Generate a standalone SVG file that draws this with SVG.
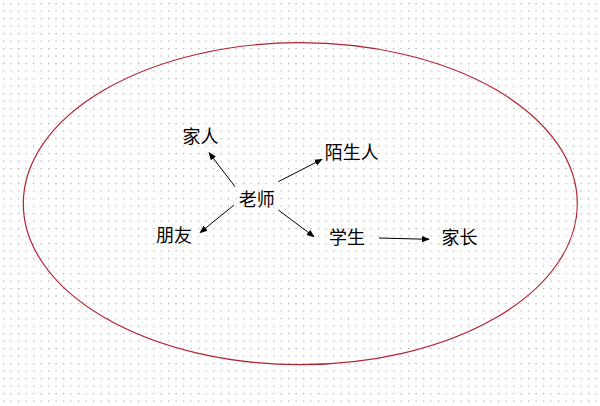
<svg xmlns="http://www.w3.org/2000/svg" width="600" height="406" viewBox="0 0 600 406">
<defs>
<pattern id="dots" x="3" y="3" width="7.5" height="7.5" patternUnits="userSpaceOnUse">
<rect x="0" y="0" width="1.2" height="1.2" fill="#a8a8a8"/>
</pattern>
<marker id="arr" viewBox="0 0 10 10" refX="9" refY="5" markerWidth="8" markerHeight="8" markerUnits="userSpaceOnUse" orient="auto">
<path d="M0,1 L10,5 L0,9 Z" fill="#000"/>
</marker>
<style>
.lbl{font-family:"Noto Sans CJK SC","Noto Sans",sans-serif;font-size:18px;fill:#000;text-anchor:middle}
.edge{stroke:#000;stroke-width:1;fill:none;marker-end:url(#arr)}
</style>
</defs>
<rect width="600" height="406" fill="#fff"/>
<rect width="600" height="406" fill="url(#dots)"/>
<g id="boundary">
<ellipse cx="300.3" cy="203.7" rx="277" ry="161" fill="none" stroke="#b3222f" stroke-width="1.2"/>
</g>
<g id="connectors">
<line class="edge" x1="235" y1="186.7" x2="209" y2="152.7"/>
<line class="edge" x1="278.3" y1="181.7" x2="322" y2="159.3"/>
<line class="edge" x1="234" y1="205" x2="200" y2="232.7"/>
<line class="edge" x1="278.3" y1="210" x2="314" y2="236.7"/>
<line class="edge" x1="379" y1="238" x2="429" y2="239.3"/>
</g>
<g id="node-laoshi"><text class="lbl" x="256.7" y="206">老师</text></g>
<g id="node-jiaren"><text class="lbl" x="200.5" y="143">家人</text></g>
<g id="node-moshengren"><text class="lbl" x="351.7" y="159">陌生人</text></g>
<g id="node-pengyou"><text class="lbl" x="174" y="242">朋友</text></g>
<g id="node-xuesheng"><text class="lbl" x="347" y="244">学生</text></g>
<g id="node-jiazhang"><text class="lbl" x="459.5" y="244">家长</text></g>
</svg>
